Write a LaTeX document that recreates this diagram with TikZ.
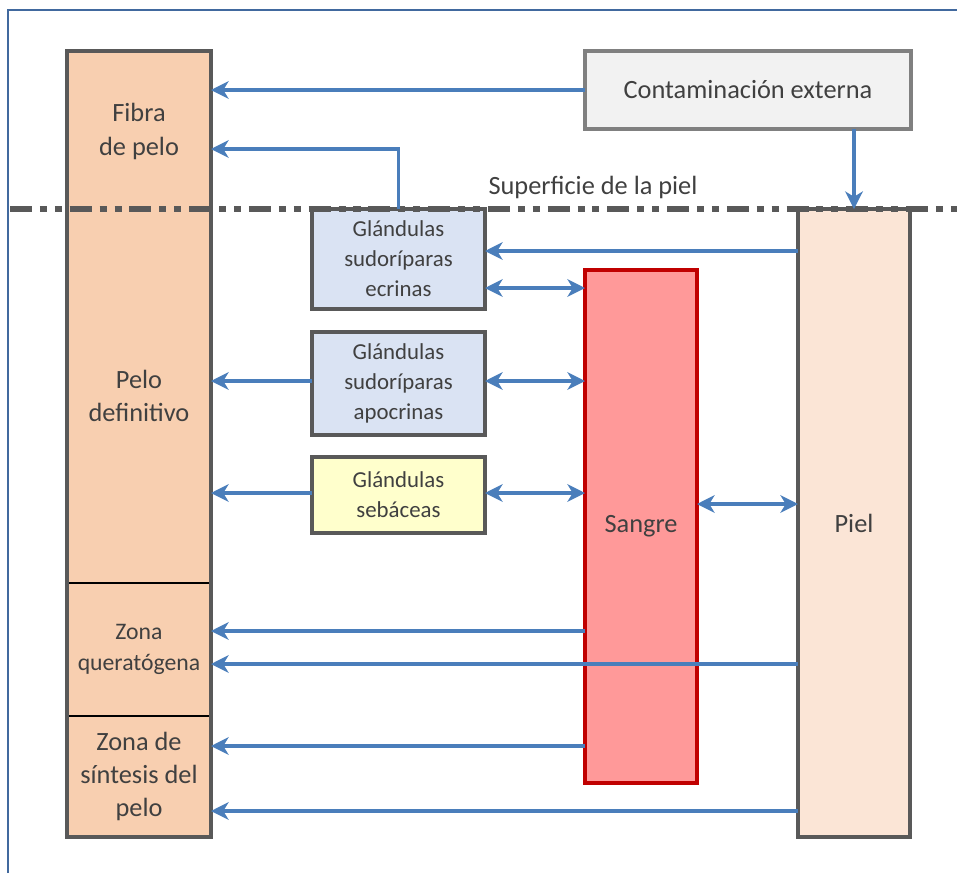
\documentclass[tikz,border=0pt]{standalone}
\usepackage{fontspec}
\setmainfont{Carlito}
\usepackage{tikz}
\usetikzlibrary{arrows.meta,positioning}
\definecolor{txtgray}{HTML}{404040}
\definecolor{boxgray}{HTML}{595959}
\definecolor{flowblue}{HTML}{4A7EBB}
\definecolor{framblue}{HTML}{41699E}
\definecolor{hairpeach}{HTML}{F8CFB0}
\definecolor{skinpeach}{HTML}{FBE5D6}
\definecolor{glandblue}{HTML}{DAE3F3}
\definecolor{sebyellow}{HTML}{FFFFCC}
\definecolor{bloodred}{HTML}{FF9999}
\definecolor{bloodline}{HTML}{C00000}
\definecolor{extgray}{HTML}{F2F2F2}
\definecolor{extline}{HTML}{808080}
\newcommand{\bigtxt}{\fontsize{15}{19}\selectfont}
\newcommand{\midtxt}{\fontsize{13.5}{17.5}\selectfont}
\newcommand{\smalltxt}{\fontsize{13}{17}\selectfont}

\begin{document}
\begin{tikzpicture}[x=0.02cm,y=-0.02cm,>={Stealth[length=10pt,width=10pt,inset=3pt]},
  flow/.style={->,draw=flowblue,line width=1.9pt},
  both/.style={<->,draw=flowblue,line width=1.9pt},
  hairpart/.style={rectangle,fill=hairpeach,outer sep=0pt,minimum width=2.88cm,align=center,text=txtgray},
  glandnode/.style={rectangle,draw=boxgray,line width=2pt,outer sep=0pt,minimum width=3.46cm,align=center,text=txtgray,font=\smalltxt},
  colnode/.style={rectangle,line width=2pt,outer sep=0pt,minimum width=2.24cm,align=center,text=txtgray,font=\bigtxt}]
	\useasboundingbox (0,0) rectangle (957,873);
	% marco
	\draw[framblue,line width=1.2pt] (8,873) -- (8,10) -- (957,10);
	% columna del pelo
	\node [hairpart,minimum height=3.16cm,font=\bigtxt] (fibra) at (139,130) {\\[-7pt]Fibra\\de pelo};
	\node [hairpart,minimum height=7.48cm,font=\bigtxt] (pelodef) at (139,396) {Pelo\\definitivo};
	\node [hairpart,minimum height=2.66cm,font=\midtxt] (zonaq) at (139,649.5) {Zona\\querat\'ogena};
	\node [hairpart,minimum height=2.42cm,font=\bigtxt] (zonas) at (139,776.5) {Zona de\\s\'intesis del\\pelo};
	\draw[black,line width=0.8pt] (pelodef.south west) -- (pelodef.south east);
	\draw[black,line width=0.8pt] (zonaq.south west) -- (zonaq.south east);
	\draw[boxgray,line width=2pt] (fibra.north west) rectangle (zonas.south east);
	% glandulas
	\node [glandnode,fill=glandblue,minimum height=2cm] (ecr) at (398.5,259) {Gl\'andulas\\sudor\'iparas\\ecrinas};
	\node [glandnode,fill=glandblue,minimum height=2.06cm] (apo) at (398.5,383.5) {Gl\'andulas\\sudor\'iparas\\apocrinas};
	\node [glandnode,fill=sebyellow,minimum height=1.52cm] (seb) at (398.5,495) {Gl\'andulas\\seb\'aceas};
	% sangre, piel, contaminacion
	\node [colnode,draw=bloodline,fill=bloodred,minimum height=10.26cm] (sangre) at (641,526.5) {Sangre};
	\node [colnode,draw=boxgray,fill=skinpeach,minimum height=12.56cm] (piel) at (854,523) {Piel};
	\node [rectangle,draw=extline,fill=extgray,line width=2pt,outer sep=0pt,minimum width=6.52cm,minimum height=1.56cm,text=txtgray,font=\bigtxt] (cont) at (748,90) {Contaminaci\'on externa};
	% superficie de la piel
	\draw[boxgray,line width=3pt,dash pattern=on 12.5pt off 4.5pt on 4pt off 4.5pt on 4pt off 4.5pt] (10,209) -- (957,209);
	\node [text=txtgray,font=\bigtxt] (sup) at (593,187) {Superficie de la piel};
	% flechas
	\draw[flow] (cont.west) -- (cont.west -| fibra.east);
	\draw[flow] (ecr.north) |- (fibra.east |- 0,149);
	\draw[flow] (cont.south -| piel.north) -- (piel.north);
	\draw[flow] (piel.west |- 0,251) -- (ecr.east |- 0,251);
	\draw[both] (ecr.east |- 0,288) -- (sangre.west |- 0,288);
	\draw[both] (apo.east |- 0,381) -- (sangre.west |- 0,381);
	\draw[flow] (apo.west |- 0,381) -- (pelodef.east |- 0,381);
	\draw[both] (seb.east |- 0,493) -- (sangre.west |- 0,493);
	\draw[flow] (seb.west |- 0,493) -- (pelodef.east |- 0,493);
	\draw[both] (sangre.east |- 0,504) -- (piel.west |- 0,504);
	\draw[flow] (sangre.west |- 0,631) -- (zonaq.east |- 0,631);
	\draw[flow] (piel.west |- 0,664) -- (zonaq.east |- 0,664);
	\draw[flow] (sangre.west |- 0,746) -- (zonas.east |- 0,746);
	\draw[flow] (piel.west |- 0,811) -- (zonas.east |- 0,811);
\end{tikzpicture}
\end{document}
